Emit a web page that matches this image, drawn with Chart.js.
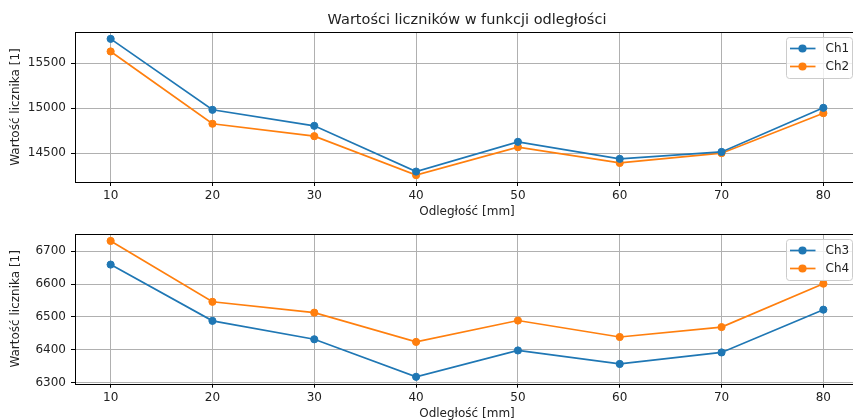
<!DOCTYPE html>
<html>
<head>
<meta charset="utf-8">
<script src="https://cdn.jsdelivr.net/npm/chart.js@4"></script>
<style>
    body { margin: 0; background: #fff; }
    #wrap { position: relative; width: 853px; height: 420px; overflow: hidden; background: #fff; }
    canvas { position: absolute; left: 0; }
    #topChart { top: 0; }
    #bottomChart { top: 220px; }
</style>
</head>
<body>
<div id="wrap">
    <canvas id="topChart" width="880" height="225"></canvas>
    <canvas id="bottomChart" width="880" height="220"></canvas>
</div>
<script>
const distances = [10, 20, 30, 40, 50, 60, 70, 80];
const ch1 = [15770, 14982, 14804, 14296, 14626, 14437, 14514, 15004];
const ch2 = [15630, 14827, 14689, 14256, 14567, 14392, 14500, 14944];
const ch3 = [6659, 6488, 6432, 6318, 6398, 6357, 6392, 6522];
const ch4 = [6731, 6546, 6513, 6424, 6489, 6439, 6469, 6601];

const xTicks = [10, 20, 30, 40, 50, 60, 70, 80];
const yTicksTop = [14500, 15000, 15500];
const yTicksBottom = [6300, 6400, 6500, 6600, 6700];

const blue = '#1f77b4';
const orange = '#ff7f0e';
const textColor = '#222';
const fontFamily = '"DejaVu Sans", sans-serif';
const tickFont = { family: fontFamily, size: 12 };

function toPoints(values) {
    return distances.map((d, i) => ({ x: d, y: values[i] }));
}

function series(label, values, color) {
    return {
        label: label,
        data: toPoints(values),
        borderColor: color,
        backgroundColor: color,
        borderWidth: 1.7,
        pointRadius: 3.6,
        pointBorderWidth: 1,
        pointBorderColor: color,
        pointBackgroundColor: color,
        tension: 0
    };
}

// frame around the plot area, like axes spines
const spines = {
    id: 'spines',
    afterDatasetsDraw(chart) {
        const { ctx, chartArea } = chart;
        ctx.save();
        ctx.strokeStyle = '#000';
        ctx.lineWidth = 1;
        const l = Math.round(chartArea.left) + 0.5;
        const t = Math.round(chartArea.top) + 0.5;
        const r = Math.round(chartArea.right) + 0.5;
        const b = Math.round(chartArea.bottom) + 0.5;
        ctx.strokeRect(l, t, r - l, b - t);
        ctx.restore();
    }
};

// legend box in the upper right corner of the plot area
const legendBox = {
    id: 'legendBox',
    afterDraw(chart) {
        const { ctx, chartArea } = chart;
        const w = 66, h = 41;
        const x = Math.round(chartArea.right - 7 - w) + 0.5;
        const y = Math.round(chartArea.top + 5) + 0.5;
        ctx.save();
        ctx.fillStyle = 'rgba(255,255,255,0.8)';
        ctx.strokeStyle = '#cccccc';
        ctx.lineWidth = 1;
        ctx.beginPath();
        ctx.roundRect(x, y, w, h, 3);
        ctx.fill();
        ctx.stroke();
        ctx.font = tickFont.size + 'px ' + fontFamily;
        ctx.textBaseline = 'middle';
        chart.data.datasets.forEach((ds, i) => {
            const cy = y + 11 + i * 18;
            ctx.strokeStyle = ds.borderColor;
            ctx.lineWidth = 1.7;
            ctx.beginPath();
            ctx.moveTo(x + 3.5, cy);
            ctx.lineTo(x + 29, cy);
            ctx.stroke();
            ctx.fillStyle = ds.borderColor;
            ctx.beginPath();
            ctx.arc(x + 16, cy, 4.1, 0, Math.PI * 2);
            ctx.fill();
            ctx.fillStyle = textColor;
            ctx.fillText(ds.label, x + 39, cy);
        });
        ctx.restore();
    }
};

function makeOptions(cfg) {
    return {
        responsive: false,
        animation: false,
        layout: { padding: { left: 0, right: 21, top: cfg.padTop, bottom: 0 } },
        plugins: {
            legend: { display: false },
            tooltip: { enabled: false },
            // title centred over the plot area only
            title: cfg.title ? {
                display: true,
                fullSize: false,
                text: cfg.title,
                color: textColor,
                font: { family: fontFamily, size: 14.5, weight: 'normal' },
                padding: { top: 12, bottom: 2.6 }
            } : { display: false }
        },
        scales: {
            x: {
                type: 'linear',
                min: 6.5,
                max: 83.5,
                afterBuildTicks: axis => { axis.ticks = xTicks.map(v => ({ value: v })); },
                afterFit: axis => { axis.height = cfg.xHeight; },
                border: { display: false },
                grid: { color: '#b0b0b0', lineWidth: 1, tickColor: '#000', tickLength: 4, tickWidth: 1 },
                ticks: { color: textColor, font: tickFont, padding: 3, maxRotation: 0, callback: v => String(v) },
                title: {
                    display: true,
                    text: 'Odległość [mm]',
                    color: textColor,
                    font: tickFont,
                    padding: { top: 0, bottom: cfg.xTitlePad }
                }
            },
            y: {
                type: 'linear',
                min: cfg.yMin,
                max: cfg.yMax,
                afterBuildTicks: axis => { axis.ticks = cfg.yTicks.map(v => ({ value: v })); },
                afterFit: axis => { axis.width = 75; },
                border: { display: false },
                grid: { color: '#b0b0b0', lineWidth: 1, tickColor: '#000', tickLength: 4, tickWidth: 1 },
                ticks: { color: textColor, font: tickFont, padding: 5, callback: v => String(v) },
                title: {
                    display: true,
                    text: 'Wartość licznika [1]',
                    color: textColor,
                    font: tickFont,
                    padding: { top: 8.8, bottom: 0 }
                }
            }
        }
    };
}

new Chart(document.getElementById('topChart'), {
    type: 'line',
    data: { datasets: [series('Ch1', ch1, blue), series('Ch2', ch2, orange)] },
    options: makeOptions({
        title: 'Wartości liczników w funkcji odległości',
        padTop: 0,
        xHeight: 43,
        xTitlePad: 5.8,
        yMin: 14180,
        yMax: 15846,
        yTicks: yTicksTop
    }),
    plugins: [spines, legendBox]
});

new Chart(document.getElementById('bottomChart'), {
    type: 'line',
    data: { datasets: [series('Ch3', ch3, blue), series('Ch4', ch4, orange)] },
    options: makeOptions({
        title: null,
        padTop: 14,
        xHeight: 56.3,
        xTitlePad: 19,
        yMin: 6297,
        yMax: 6752,
        yTicks: yTicksBottom
    }),
    plugins: [spines, legendBox]
});
</script>
</body>
</html>
